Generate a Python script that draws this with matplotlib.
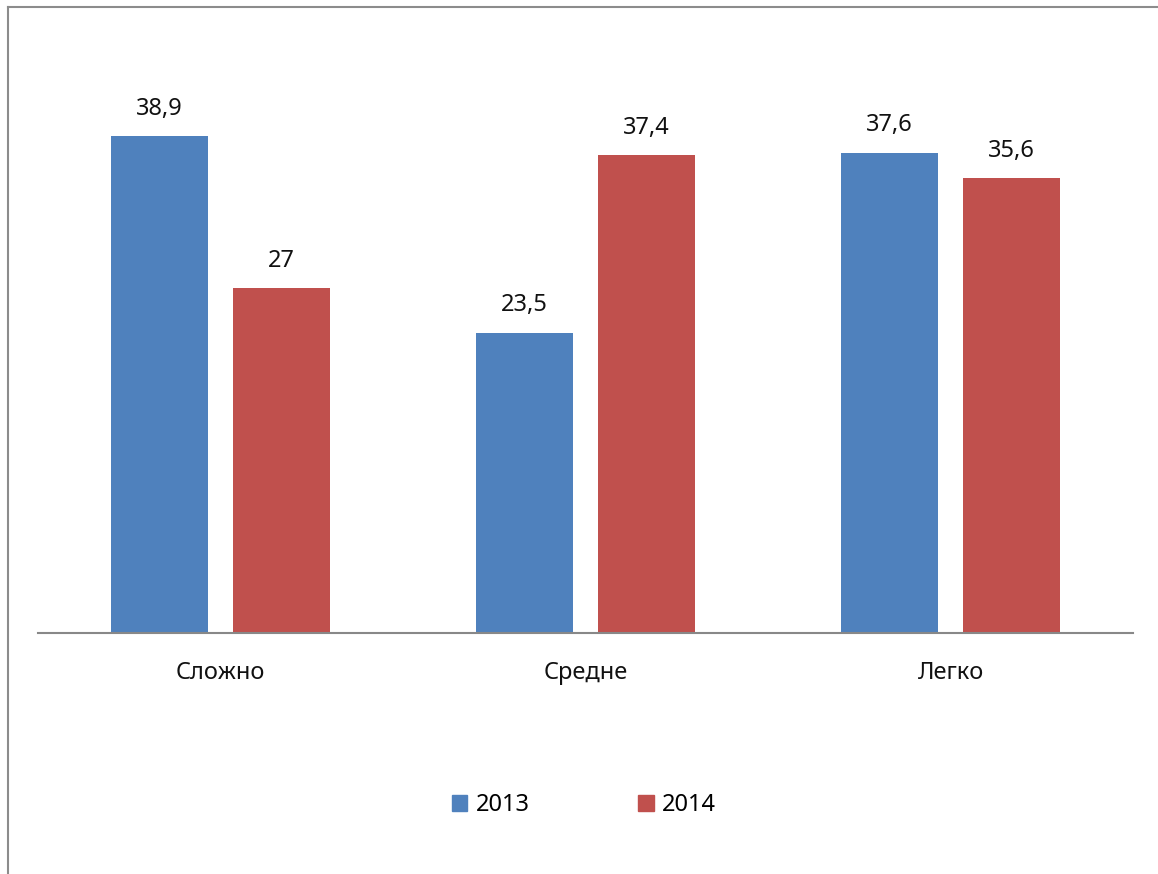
import matplotlib.pyplot as plt
from matplotlib.lines import Line2D
from matplotlib.patches import Rectangle
import numpy as np

plt.rcParams['font.family'] = ['Noto Sans', 'DejaVu Sans']

# данные
categories = ['Сложно', 'Средне', 'Легко']
years = ['2013', '2014']
values_2013 = [38.9, 23.5, 37.6]
values_2014 = [27, 37.4, 35.6]
colors = ['#4F81BD', '#C0504D']

W, H = 1158, 874
fig = plt.figure(figsize=(W / 100, H / 100), dpi=100)

# область графика в пикселях
left, right, base, top = 38, 1133, 633, 58
ax = fig.add_axes([left / W, (H - base) / H, (right - left) / W, (base - top) / H])

x = np.arange(len(categories))
bw = 0.266
off = 0.167
bars1 = ax.bar(x - off, values_2013, bw, color=colors[0], label=years[0])
bars2 = ax.bar(x + off, values_2014, bw, color=colors[1], label=years[1])

for bars in (bars1, bars2):
    for b in bars:
        txt = f"{b.get_height():g}".replace('.', ',')
        ax.annotate(txt, (b.get_x() + b.get_width() / 2, b.get_height()),
                    xytext=(0, 11), textcoords='offset points',
                    ha='center', va='bottom', fontsize=17, color='#111111')

ax.set_xlim(-0.5, 2.5)
ax.set_ylim(0, 45)
ax.set_yticks([])
ax.set_xticks(x)
ax.set_xticklabels(categories, fontsize=17, color='#111111')
ax.tick_params(axis='x', length=0, pad=20)
for s in ['top', 'right', 'left']:
    ax.spines[s].set_visible(False)
ax.spines['bottom'].set_color('#888888')
ax.spines['bottom'].set_linewidth(1.5)

# рамка диаграммы (обрезана краями картинки)
fig.add_artist(Line2D([8 / W, 1.0], [1 - 7 / H, 1 - 7 / H], color='#8c8c8c', lw=1.5))
fig.add_artist(Line2D([8 / W, 8 / W], [0, 1 - 7 / H], color='#8c8c8c', lw=1.5))

# легенда
handles = [Rectangle((0, 0), 1, 1, color=c) for c in colors]
fig.legend(handles, years, loc='center', bbox_to_anchor=(584 / W, 1 - 805 / H),
           ncol=2, frameon=False, fontsize=17, handlelength=0.65, handleheight=0.65,
           handletextpad=0.35, columnspacing=4.6)

fig.savefig('out.png', dpi=100)
